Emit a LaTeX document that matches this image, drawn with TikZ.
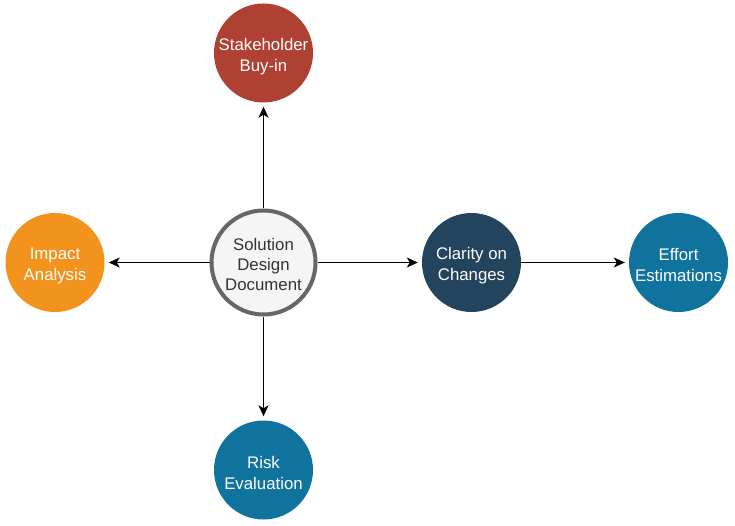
\documentclass[tikz,border=0pt]{standalone}
\usepackage{fontspec}
\setmainfont{Liberation Sans}
\usetikzlibrary{arrows.meta}
\definecolor{cred}{HTML}{AE4132}
\definecolor{corange}{HTML}{F2931E}
\definecolor{cnavy}{HTML}{23445D}
\definecolor{cblue}{HTML}{10739E}
\definecolor{cgrayfill}{HTML}{F5F5F5}
\definecolor{cgraydraw}{HTML}{666666}
\definecolor{ctext}{HTML}{333333}
\begin{document}
\begin{tikzpicture}[x=1pt,y=-1pt,
  bubble/.style={circle,minimum size=99pt,inner sep=0pt},
  hub/.style={circle,minimum size=104pt,inner sep=0pt,fill=cgrayfill,draw=cgraydraw,
    line width=4pt},
  lbl/.style={align=center,inner sep=0pt,font=\fontsize{16.8}{21}\selectfont},
  link/.style={line width=1.5pt,-{Stealth[length=11pt,width=10pt,inset=3pt]},shorten >=4pt}]
\useasboundingbox (0,0) rectangle (735,526);
\node[hub] (sdd) at (263.5,262.5) {};
\node[lbl,text=ctext,font=\fontsize{16.8}{20}\selectfont] (sddt) at (263.5,264.5) {Solution\\Design\\Document};
\node[bubble,fill=cred] (stake) at (263.5,53) {};
\node[lbl,text=white] (staket) at (263.5,57) {Stakeholder\\Buy-in};
\node[bubble,fill=corange] (impact) at (55,262.5) {};
\node[lbl,text=white] (impactt) at (55,265.5) {Impact\\Analysis};
\node[bubble,fill=cnavy] (clarity) at (471.5,262.5) {};
\node[lbl,text=white] (clarityt) at (471.5,265.5) {Clarity on\\Changes};
\node[bubble,fill=cblue] (effort) at (678.5,262.5) {};
\node[lbl,text=white] (effortt) at (678.5,265.5) {Effort\\Estimations};
\node[bubble,fill=cblue] (risk) at (263.5,470) {};
\node[lbl,text=white] (riskt) at (263.5,473) {Risk\\Evaluation};
\draw[link] (sdd) -- (stake);
\draw[link] (sdd) -- (impact);
\draw[link] (sdd) -- (clarity);
\draw[link] (sdd) -- (risk);
\draw[link] (clarity) -- (effort);
\end{tikzpicture}
\end{document}
